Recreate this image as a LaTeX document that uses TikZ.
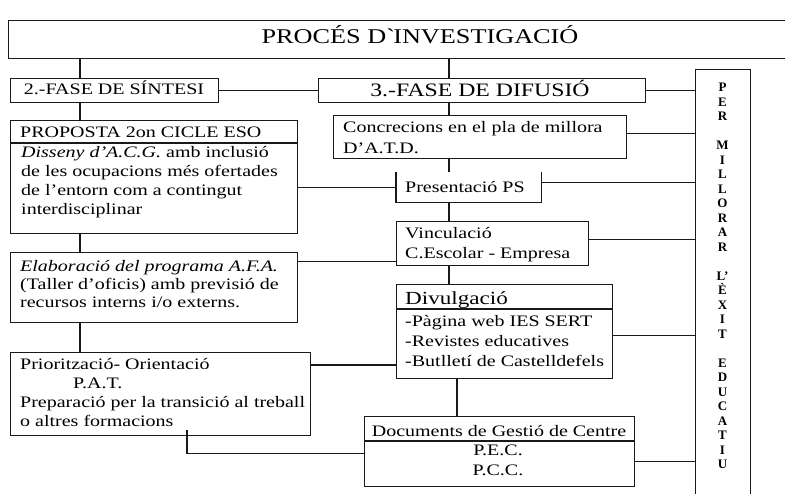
\documentclass[tikz,border=0pt]{standalone}
\usepackage{fontspec}
\setmainfont{Liberation Serif}[FakeStretch=1.25]
\newfontfamily\colfont{Liberation Serif}
\newcommand\myfs[2]{\fontsize{#1}{#2}\selectfont}
\tikzset{
  box/.style={draw=black!90, line width=1.2pt, rectangle, inner sep=0pt, anchor=north west},
  conn/.style={draw=black!90, line width=1.2pt},
  txt/.style={inner sep=0pt, font=\myfs{16}{19}},
  txtm/.style={inner sep=0pt, anchor=north west, align=left, font=\myfs{16}{#1}},
}
\begin{document}
\begin{tikzpicture}[x=1pt,y=-1pt]
\useasboundingbox (0,0) rectangle (785,494);
\clip (0,0) rectangle (785,494);
\fill[white] (0,0) rectangle (785,494);

% title
\node[box, minimum width=820pt, minimum height=38pt] (title) at (8,20) {};
\node[txt, anchor=base, font=\myfs{21}{24}] (titlet) at (420,43.5) {PROCÉS D\textasciigrave INVESTIGACIÓ};

% phases
\node[box, minimum width=208pt, minimum height=24pt] (f2) at (10,78) {};
\node[txt, anchor=base] (f2t) at (114,95) {2.-FASE DE SÍNTESI};
\node[box, minimum width=327pt, minimum height=24pt] (f3) at (318,78) {};
\node[txt, anchor=base, font=\myfs{19}{22}] (f3t) at (480,96.5) {3.-FASE DE DIFUSIÓ};

% column
\node[box, minimum width=55pt, minimum height=440pt] (col) at (695,69) {};
\node[inner sep=0pt, anchor=north, align=center, font=\colfont\bfseries\myfs{13}{14.5}] (colt) at (722.5,83)
 {P\\E\\R\\[14.5pt]M\\I\\L\\L\\O\\R\\A\\R\\[14.5pt]L’\\È\\X\\I\\T\\[14.5pt]E\\D\\U\\C\\A\\T\\I\\U};

% left column boxes
\node[box, minimum width=287pt, minimum height=113pt] (prop) at (10,120) {};
\draw[conn] ([yshift=-23pt]prop.north west) -- ([yshift=-23pt]prop.north east);
\node[txt, anchor=base west] (propt) at (20,138) {PROPOSTA 2on CICLE ESO};
\node[txtm=19] (propb) at (21,146.5) {\textit{Disseny d’A.C.G.} amb inclusió\\de les ocupacions més ofertades\\de l’entorn com a contingut\\interdisciplinar};

\node[box, minimum width=287pt, minimum height=70pt] (elab) at (10,252) {};
\node[txtm=18] (elabt) at (20,260) {\textit{Elaboració del programa A.F.A.}\\(Taller d’oficis) amb previsió de\\recursos interns i/o externs.};

\node[box, minimum width=300pt, minimum height=83pt] (prio) at (10,352) {};
\node[txtm=19] (priot) at (20,358) {Priorització- Orientació\\\hspace*{53pt}P.A.T.\\Preparació per la transició al treball\\o altres formacions};

% right column boxes
\node[box, minimum width=293pt, minimum height=43pt] (conc) at (333,115) {};
\node[txtm=21.5] (conct) at (343,121) {Concrecions en el pla de millora\\D’A.T.D.};

\node[inner sep=0pt, minimum width=145pt, minimum height=30pt, anchor=north west] (pres) at (396,172) {};
\draw[conn] (pres.north west) -- (pres.south west) -- (pres.south east) -- (pres.north east);
\node[txt, anchor=base west] (prest) at (405,192.5) {Presentació PS};

\node[box, minimum width=192pt, minimum height=44pt] (vinc) at (396,221) {};
\node[txtm=20] (vinct) at (405,227) {Vinculació\\C.Escolar - Empresa};

\node[box, minimum width=216pt, minimum height=94pt] (divu) at (396,284) {};
\draw[conn] ([yshift=-25pt]divu.north west) -- ([yshift=-25pt]divu.north east);
\node[txt, anchor=base west, font=\myfs{18.5}{22}] (divut) at (405,304.5) {Divulgació};
\node[txtm=20] (divub) at (405,315.6) {-Pàgina web IES SERT\\-Revistes educatives\\-Butlletí de Castelldefels};

\node[box, minimum width=270pt, minimum height=70pt] (docs) at (364,416) {};
\draw[conn] ([yshift=-25pt]docs.north west) -- ([yshift=-25pt]docs.north east);
\node[txt, anchor=base] (docst) at (499,436) {Documents de Gestió de Centre};
\node[txt, anchor=north, align=center, font=\myfs{16}{20}] (docsb) at (498,444.4) {P.E.C.\\P.C.C.};

% connectors
\coordinate (a2) at ([xshift=70pt]f2.north west);
\coordinate (a3) at ([xshift=131pt]f3.north west);
\coordinate (a4) at ([xshift=61pt]divu.south west);
\draw[conn] (a2) -- (a2 |- title.south);
\draw[conn] (a3) -- (a3 |- title.south);
\draw[conn] (f2.east) -- (f3.west);
\draw[conn] (f3.east) -- (f3.east -| col.west);
\draw[conn] (a2 |- f2.south) -- (a2 |- prop.north);
\draw[conn] (a2 |- prop.south) -- (a2 |- elab.north);
\draw[conn] (a2 |- elab.south) -- (a2 |- prio.north);
\draw[conn] (a3 |- f3.south) -- (a3 |- conc.north);
\draw[conn] (a3 |- conc.south) -- (a3 |- pres.north);
\draw[conn] (a3 |- pres.south) -- (a3 |- vinc.north);
\draw[conn] (a3 |- vinc.south) -- (a3 |- divu.north);
\draw[conn] (a4) -- (a4 |- docs.north);

\coordinate (cc) at ([yshift=3.5pt]conc.east);
\draw[conn] (cc) -- (cc -| col.west);
\coordinate (pc) at ([yshift=5pt]pres.east);
\draw[conn] (pc) -- (pc -| col.west);
\coordinate (vc) at ([yshift=4pt]vinc.east);
\draw[conn] (vc) -- (vc -| col.west);
\coordinate (dc) at ([yshift=-4pt]divu.east);
\draw[conn] (dc) -- (dc -| col.west);
\coordinate (gc) at ([yshift=-10pt]docs.east);
\draw[conn] (gc) -- (gc -| col.west);

\draw[conn] (prop.east |- pres.west) -- (pres.west);
\coordinate (ev) at ([yshift=5pt]vinc.south west);
\draw[conn] (elab.east |- ev) -- (ev);
\coordinate (pd) at ([yshift=-13pt]prio.north east);
\draw[conn] (pd) -- (pd -| divu.west);
\coordinate (pq) at ([xshift=177pt,yshift=6pt]prio.south west);
\draw[conn] (pq) |- ([yshift=-2pt]docs.west);
\end{tikzpicture}
\end{document}
